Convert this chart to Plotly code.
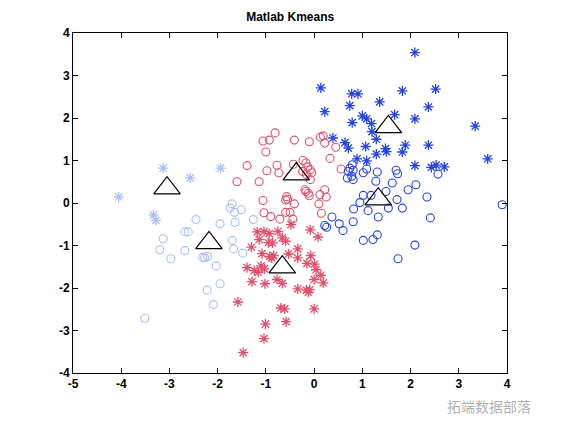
import plotly.graph_objects as go

# ---- data ----
lb_circ_x = [-1.70, -1.74, -1.51, -1.65, -2.45, -1.26, -1.95, -1.64, -2.68, -2.61, -3.13, -1.70, -3.20,
             -2.68, -1.67, -1.48, -2.97, -2.31, -2.21, -2.27, -2.03, -1.95, -2.22, -2.09, -3.51]
lb_circ_y = [-0.02, -0.12, -0.16, -0.22, -0.39, -0.39, -0.49, -0.46, -0.68, -0.68, -0.84, -0.88, -1.10,
             -1.12, -1.08, -1.18, -1.31, -1.28, -1.26, -1.29, -1.48, -1.90, -2.05, -2.39, -2.71]

lb_star_x = [-3.13, -1.94, -2.57, -4.05, -3.33, -3.28]
lb_star_y = [0.82, 0.82, 0.59, 0.14, -0.28, -0.41]

red_circ_x = [-0.81, -1.06, -0.93, -1.00, -0.41, -0.10, 0.13, 0.19, 0.22, 0.45, 0.33, 0.56, -1.39, -0.77,
              -0.98, -0.73, -0.43, -0.23, -0.17, -0.13, -0.08, -0.05, -0.16, -0.24, -1.60, -1.14, -0.08,
              -0.19, -0.12, -0.17, -0.10, 0.22, 0.12, 0.25, -1.06, -0.57, -0.55, -0.59, -0.41, 0.10,
              -1.04, -0.90, -0.71, -0.59, -0.50, -0.44, 0.15]
red_circ_y = [1.65, 1.46, 1.48, 1.20, 1.48, 1.44, 1.55, 1.58, 1.41, 1.31, 1.05, 0.80, 0.88, 0.89,
              0.76, 0.71, 0.91, 1.00, 0.94, 0.85, 0.78, 0.71, 0.67, 0.74, 0.50, 0.50, 0.55,
              0.31, 0.23, 0.27, 0.17, 0.31, 0.20, 0.14, 0.06, 0.15, 0.09, 0.07, -0.02, -0.02,
              -0.23, -0.32, -0.38, -0.22, -0.22, -0.38, -0.24]

red_star_x = [-1.18, -1.04, -0.93, -0.75, -0.48, -0.08, 0.08, -1.14, -0.95, -0.86, -0.66, -0.59, -1.30,
              -1.08, -0.92, -0.84, -0.88, -0.53, -0.34, -0.34, -0.07, -1.39, -1.24, -1.16, -1.10,
              -1.03, -0.15, 0.01, 0.04, -0.77, -0.66, -1.29, -1.02, 0.00, 0.14, 0.19, -0.34, -0.16,
              -0.09, -0.12, -1.58, -0.69, -0.61, 0.00, -0.58, -1.01, -1.04, -1.47]
red_star_y = [-0.68, -0.67, -0.72, -0.67, -0.51, -0.63, -0.80, -0.86, -0.93, -0.94, -0.82, -0.90, -1.04,
              -1.19, -1.26, -1.24, -1.29, -1.20, -1.08, -1.29, -1.24, -1.52, -1.59, -1.63, -1.48,
              -1.55, -1.42, -1.44, -1.57, -1.80, -1.89, -1.85, -1.90, -1.80, -1.70, -1.88, -2.02, -2.05,
              -2.04, -2.10, -2.33, -2.47, -2.49, -2.49, -2.79, -2.85, -3.19, -3.52]

blue_circ_x = [0.79, 0.74, 0.81, 0.71, 0.69, 0.81, 0.78, 1.02, 1.09, 1.31, 1.70, 1.73, 2.57, 1.28, 1.62,
               2.11, 1.95, 1.49, 1.02, 1.18, 0.95, 0.82, 1.72, 2.34, 1.12, 1.54, 1.83, 3.90, 1.33, 0.37,
               0.52, 0.22, 0.26, 0.60, 0.81, 2.41, 1.02, 1.22, 1.31, 2.09, 1.74]
blue_circ_y = [0.90, 0.82, 0.77, 0.74, 0.59, 0.55, 0.63, 0.71, 0.80, 0.73, 0.77, 0.69, 0.68, 0.51, 0.47,
               0.43, 0.31, 0.27, 0.18, 0.18, 0.01, -0.14, 0.08, 0.14, -0.18, -0.12, -0.12, -0.04, -0.33, -0.33,
               -0.49, -0.53, -0.57, -0.65, -0.44, -0.35, -0.88, -0.86, -0.75, -0.99, -1.31]

blue_star_x = [2.09, 0.14, 0.78, 0.91, 1.83, 2.52, 1.36, 0.22, 0.74, 2.37, 0.79, 1.00, 1.09, 1.19, 1.67,
               2.09, 3.34, 1.20, 0.39, 1.29, 0.64, 0.71, 1.07, 1.48, 1.50, 1.89, 2.37, 1.29, 1.83, 3.60,
               0.89, 1.09, 2.09, 2.43, 2.53, 2.70]
blue_star_y = [3.54, 2.71, 2.57, 2.57, 2.64, 2.68, 2.38, 2.15, 2.29, 2.26, 1.89, 2.05, 1.98, 1.87, 2.08,
               1.98, 1.81, 1.68, 1.53, 1.50, 1.42, 1.29, 1.33, 1.28, 1.21, 1.36, 1.36, 1.15, 1.20, 1.04,
               1.04, 0.99, 0.88, 0.84, 0.89, 0.85]

centroid_x = [-3.05, -2.18, -0.37, -0.66, 1.54, 1.33]
centroid_y = [0.35, -0.94, 0.68, -1.51, 1.79, 0.09]

x_ticks = [-5, -4, -3, -2, -1, 0, 1, 2, 3, 4]
y_ticks = [-4, -3, -2, -1, 0, 1, 2, 3, 4]

LIGHT_BLUE = "#a8bff8"
RED = "#e2506c"
BLUE = "#2444e6"

fig = go.Figure()


def circles(x, y, col):
    fig.add_trace(go.Scatter(x=x, y=y, mode="markers",
                             marker=dict(symbol="circle-open", size=8, color=col,
                                         line=dict(width=1.1, color=col)),
                             showlegend=False, hoverinfo="x+y"))


def stars(x, y, col):
    fig.add_trace(go.Scatter(x=x, y=y, mode="markers",
                             marker=dict(symbol="asterisk", size=8.5, color=col,
                                         line=dict(width=1.3, color=col)),
                             showlegend=False, hoverinfo="x+y"))


circles(lb_circ_x, lb_circ_y, LIGHT_BLUE)
stars(lb_star_x, lb_star_y, LIGHT_BLUE)
circles(red_circ_x, red_circ_y, RED)
stars(red_star_x, red_star_y, RED)
circles(blue_circ_x, blue_circ_y, BLUE)
stars(blue_star_x, blue_star_y, BLUE)

fig.add_trace(go.Scatter(x=centroid_x, y=centroid_y, mode="markers",
                         marker=dict(symbol="triangle-up-open", size=23, color="black",
                                     line=dict(width=1.2, color="black")),
                         showlegend=False, hoverinfo="x+y"))

tickfont = dict(family="Liberation Sans, Arial, sans-serif", size=12, color="black", weight="bold")
axis_common = dict(showgrid=False, zeroline=False, showline=True, linecolor="black", linewidth=1,
                   mirror="ticks", ticks="inside", ticklen=5, tickwidth=1, tickcolor="black",
                   tickfont=tickfont)

fig.update_xaxes(range=[-5, 4], tickvals=x_ticks, ticktext=[str(v) for v in x_ticks], **axis_common)
fig.update_yaxes(range=[-4, 4], tickvals=y_ticks, ticktext=[str(v) for v in y_ticks], **axis_common)

# the page body adds an 8px offset; margins compensate for it
fig.update_layout(
    width=561, height=421,
    margin=dict(l=65, r=62, t=25, b=56),
    paper_bgcolor="white", plot_bgcolor="white",
    title=dict(text="Matlab Kmeans", x=0.503, xanchor="center", y=0.979, yanchor="middle",
               font=dict(family="Liberation Sans, Arial, sans-serif", size=12, color="black",
                         weight="bold")),
)

fig.add_annotation(text="拓端数据部落", xref="paper", yref="paper", x=1.06, y=-0.097,
                   xanchor="right", yanchor="middle", showarrow=False,
                   font=dict(family="Noto Sans CJK SC", size=14, color="rgba(150,150,150,0.75)"))

fig.write_html("out.html")
